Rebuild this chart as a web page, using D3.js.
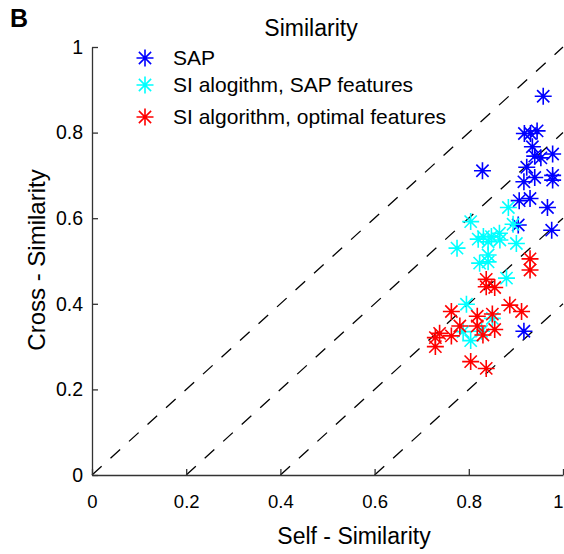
<!DOCTYPE html>
<html lang="en">
<head>
    <meta charset="utf-8">
    <style type="text/css">
        body { margin: 0; background: #fff; }
        text { font-family: "Liberation Sans", Arial, sans-serif; fill: #000; }
        .axis path, .axis line { stroke: #333; stroke-width: 1.3px; }
        .axis text { fill: #000; }
        .diag { stroke: #000; stroke-width: 1.3px; stroke-dasharray: 13,12; fill: none; }
    </style>
</head>
<body>

<script src="https://d3js.org/d3.v7.min.js" type="text/javascript"></script>

<script type="text/javascript">
    // values
    var sapX = [0.958, 0.918, 0.931, 0.945, 0.935, 0.940, 0.953, 0.978, 0.923, 0.829,
                0.940, 0.917, 0.978, 0.978, 0.930, 0.907, 0.967, 0.905, 0.976, 0.917];
    var sapY = [0.885, 0.798, 0.798, 0.804, 0.767, 0.745, 0.741, 0.750, 0.719, 0.711,
                0.695, 0.685, 0.700, 0.689, 0.646, 0.641, 0.625, 0.584, 0.572, 0.336];

    var siSapX = [0.884, 0.894, 0.804, 0.775, 0.820, 0.831, 0.841, 0.848, 0.865, 0.866,
                  0.901, 0.841, 0.841, 0.823, 0.880, 0.795, 0.850, 0.788, 0.827, 0.804];
    var siSapY = [0.625, 0.586, 0.592, 0.530, 0.551, 0.557, 0.545, 0.557, 0.565, 0.549,
                  0.541, 0.514, 0.498, 0.495, 0.460, 0.399, 0.366, 0.335, 0.336, 0.314];

    var siOptX = [0.837, 0.837, 0.855, 0.930, 0.930, 0.887, 0.912, 0.763, 0.818, 0.850,
                  0.781, 0.818, 0.855, 0.738, 0.729, 0.729, 0.763, 0.830, 0.804, 0.837];
    var siOptY = [0.457, 0.440, 0.438, 0.505, 0.479, 0.397, 0.382, 0.382, 0.371, 0.376,
                  0.348, 0.348, 0.340, 0.331, 0.321, 0.300, 0.325, 0.327, 0.265, 0.249];

    var seriesNames = ["SAP", "SI alogithm, SAP features", "SI algorithm, optimal features"];
    var seriesColors = ["#0000ff", "#00ffff", "#ff0000"];
    var xTicks = [0, 0.2, 0.4, 0.6, 0.8, 1];
    var yTicks = [0, 0.2, 0.4, 0.6, 0.8, 1];
    var diagOffsets = [0, 0.2, 0.4, 0.6];   // y = x - offset

    var width = 564;
    var height = 554;
    var plotLeft = 92, plotRight = 563, plotTop = 47, plotBottom = 475;

    var x = d3.scaleLinear().domain([0, 1]).range([plotLeft, plotRight]);
    var y = d3.scaleLinear().domain([0, 1]).range([plotBottom, plotTop]);

    var svg = d3.select("body").append("svg")
        .attr("width", width)
        .attr("height", height);

    // matlab style '*' marker
    function starPath(r) {
        var d = r * 0.72;
        return "M" + (-r) + ",0L" + r + ",0" +
               "M0," + (-r) + "L0," + r +
               "M" + (-d) + "," + (-d) + "L" + d + "," + d +
               "M" + (-d) + "," + d + "L" + d + "," + (-d);
    }

    // dashed reference lines
    svg.selectAll(".diag")
        .data(diagOffsets)
        .enter()
        .append("line")
        .attr("class", "diag")
        .attr("x1", function (d) { return x(d); })
        .attr("y1", y(0))
        .attr("x2", x(1))
        .attr("y2", function (d) { return y(1 - d); });

    // axes
    var fmt = function (d) { return d3.format("")(d); };

    var xAxis = svg.append("g")
        .attr("class", "axis")
        .attr("transform", "translate(0," + plotBottom + ")")
        .call(d3.axisBottom(x).tickValues(xTicks).tickSize(-6).tickPadding(20).tickSizeOuter(0).tickFormat(fmt));
    xAxis.selectAll("text").attr("font-size", 18.5).attr("dy", "0.71em");
    // keep the last label inside the window
    xAxis.selectAll("text").filter(function (d) { return d === 1; }).attr("dx", -5);

    var yAxis = svg.append("g")
        .attr("class", "axis")
        .attr("transform", "translate(" + plotLeft + ",0)")
        .call(d3.axisLeft(y).tickValues(yTicks).tickSize(-6).tickPadding(9).tickSizeOuter(0).tickFormat(fmt));
    yAxis.selectAll("text").attr("font-size", 19.5);

    // points
    var series = [
        { xs: sapX, ys: sapY },
        { xs: siSapX, ys: siSapY },
        { xs: siOptX, ys: siOptY }
    ];

    series.forEach(function (s, k) {
        var pts = s.xs.map(function (v, i) { return [v, s.ys[i]]; });
        svg.append("g").selectAll("path")
            .data(pts)
            .enter()
            .append("path")
            .attr("d", starPath(8.5))
            .attr("transform", function (d) { return "translate(" + x(d[0]) + "," + y(d[1]) + ")"; })
            .attr("fill", "none")
            .attr("stroke", seriesColors[k])
            .attr("stroke-width", 1.6);
    });

    // legend
    var legend = svg.append("g").selectAll("g")
        .data(seriesNames)
        .enter()
        .append("g")
        .attr("transform", function (d, i) { return "translate(145," + [58, 85, 117][i] + ")"; });

    legend.append("path")
        .attr("d", starPath(8.5))
        .attr("fill", "none")
        .attr("stroke", function (d, i) { return seriesColors[i]; })
        .attr("stroke-width", 1.6);

    legend.append("text")
        .attr("x", 28)
        .attr("y", 7)
        .attr("font-size", 21)
        .text(function (d) { return d; });

    // titles
    svg.append("text")
        .attr("x", 311)
        .attr("y", 36)
        .attr("text-anchor", "middle")
        .attr("font-size", 23)
        .text("Similarity");

    svg.append("text")
        .attr("x", 10)
        .attr("y", 27)
        .attr("font-size", 25)
        .attr("font-weight", "bold")
        .text("B");

    svg.append("text")
        .attr("x", 354)
        .attr("y", 544)
        .attr("text-anchor", "middle")
        .attr("font-size", 23)
        .text("Self - Similarity");

    svg.append("text")
        .attr("transform", "translate(45,260) rotate(-90)")
        .attr("text-anchor", "middle")
        .attr("font-size", 24)
        .text("Cross - Similarity");
</script>

</body>
</html>
